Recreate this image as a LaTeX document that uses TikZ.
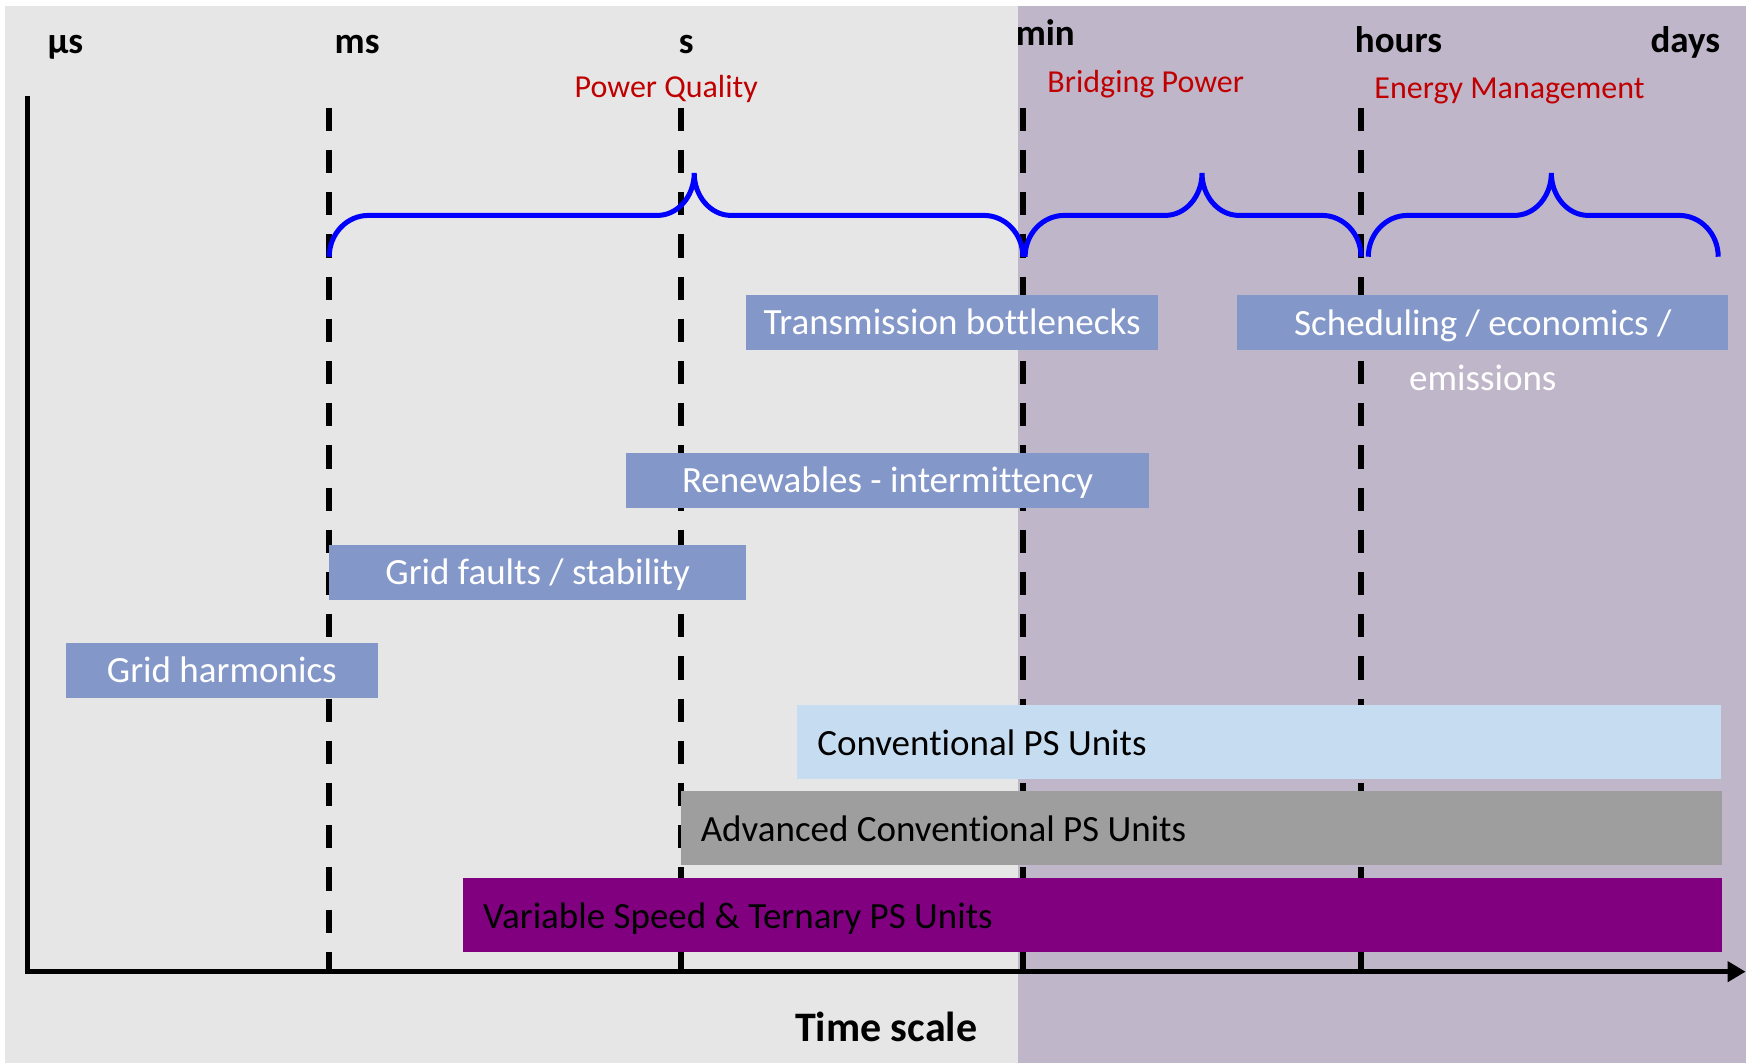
\documentclass[tikz,border=0pt]{standalone}
\usepackage{fontspec}
\setmainfont{Carlito}[Ligatures=NoCommon]
\usetikzlibrary{arrows.meta,fit}
\definecolor{bggray}{RGB}{230,230,230}
\definecolor{bgpurple}{RGB}{192,182,202}
\definecolor{boxblue}{RGB}{132,151,201}
\definecolor{lightblue}{RGB}{198,220,240}
\definecolor{midgray}{RGB}{158,158,158}
\definecolor{deeppurple}{RGB}{128,0,128}
\definecolor{darkred}{RGB}{192,0,0}
\definecolor{braceblue}{RGB}{0,0,255}
\newcommand\mybrace[3]{%
  \draw[brace] (#1,230) .. controls (#1,209.6) and ({#1+15.7},193) .. ({#1+35},193)
    -- ({#2-33},193) .. controls ({#2-14.8},193) and (#2,176) .. (#2,155)
    .. controls (#2,176) and ({#2+14.8},193) .. ({#2+33},193)
    -- ({#3-35},193) .. controls ({#3-15.7},193) and (#3,209.6) .. (#3,230);}
\begin{document}
\begin{tikzpicture}[x=0.558pt,y=-0.558pt,
  boxfont/.style={font=\fontsize{18.5}{22}\selectfont},
  issue/.style={fill=boxblue, draw=none, inner sep=0pt},
  issuetext/.style={inner sep=0pt, text=white, boxfont, text height=11.9pt, text depth=0pt},
  bar/.style={draw=none, inner sep=0pt},
  bartext/.style={anchor=west, inner sep=0pt, boxfont, text height=11.9pt, text depth=0pt},
  scalelab/.style={anchor=base, inner sep=0pt, font=\fontsize{18.5}{22}\selectfont\bfseries},
  regionlab/.style={anchor=base, inner sep=0pt, text=darkred, font=\fontsize{16}{19}\selectfont},
  guide/.style={line width=2.8pt, dash pattern=on 11.65pt off 9.45pt},
  axisline/.style={line width=2.2pt},
  brace/.style={draw=braceblue, line width=2.5pt}
]
\useasboundingbox (0,0) rectangle (1568,953);
\fill[bggray] (4.5,5.5) rectangle (912,952);
\fill[bgpurple] (912,5.5) rectangle (1564,952);

% coordinates
\coordinate (ytop) at (24.7,85.7);
\coordinate (orig) at (24.7,870.6);
\coordinate (xend) at (1564,870.6);
\foreach \n/\x in {ms/295,s/610,min/916.5,h/1219.5}{
  \coordinate (\n top) at (\x,96.5);
  \coordinate (\n bot) at (\x,870.6);
}

% dashed guides
\draw[guide] (mstop) -- (msbot);
\draw[guide] (stop) -- (sbot);
\draw[guide] (mintop) -- (minbot);
\draw[guide] (htop) -- (hbot);

% axes
\draw[axisline, -{Triangle[length=9pt,width=10pt]}] (ytop) -- (orig) -- (xend);

% scale labels
\node[scalelab] (lus) at (58.6,48) {µs};
\node[scalelab] (lms) at (320,48) {ms};
\node[scalelab] (ls) at (614.8,48) {s};
\node[scalelab] (lmin) at (936.6,41) {min};
\node[scalelab] (lhours) at (1253,47) {hours};
\node[scalelab] (ldays) at (1510,47) {days};

% region labels
\node[regionlab] (pq) at (597,87) {Power Quality};
\node[regionlab] (bp) at (1026.6,83) {Bridging Power};
\node[regionlab] (em) at (1352.5,88.5) {Energy Management};

% braces
\mybrace{295}{622}{916.5}
\mybrace{918.5}{1077}{1219.5}
\mybrace{1226}{1390}{1539.5}

% issue boxes
\node[issue, fit={(668.5,264.3) (1037.7,313.3)}] (trans) {};
\node[issuetext] (transt) at (trans.center) {Transmission bottlenecks};
\node[issue, fit={(1108.6,264.3) (1548.6,313.3)}] (sched) {};
\node[issuetext] (schedt) at (1328.6,290) {Scheduling / economics /};
\node[issuetext] (sched2) at (1328.6,339) {emissions};
\node[issue, fit={(561,406) (1029.6,455)}] (renew) {};
\node[issuetext] (renewt) at (renew.center) {Renewables - intermittency};
\node[issue, fit={(295,488.5) (668.5,537.6)}] (faults) {};
\node[issuetext] (faultst) at (faults.center) {Grid faults / stability};
\node[issue, fit={(59,576) (338.5,625)}] (harm) {};
\node[issuetext] (harmt) at (harm.center) {Grid harmonics};

% unit bars
\node[bar, fill=lightblue, fit={(714.4,631.7) (1542,698)}] (conv) {};
\node[bartext] (convt) at ([xshift=10pt,yshift=-0.7pt]conv.west) {Conventional PS Units};
\node[bar, fill=midgray, fit={(610,708.8) (1543,775)}] (adv) {};
\node[bartext] (advt) at ([xshift=10pt,yshift=-0.7pt]adv.west) {Advanced Conventional PS Units};
\node[bar, fill=deeppurple, fit={(415,786.8) (1543,853)}] (var) {};
\node[bartext] (vart) at ([xshift=10pt,yshift=-0.7pt]var.west) {Variable Speed \& Ternary PS Units};

% axis title
\node[anchor=base, inner sep=0pt, font=\fontsize{21}{25}\selectfont\bfseries] (tscale) at (794,933) {Time scale};
\end{tikzpicture}
\end{document}
